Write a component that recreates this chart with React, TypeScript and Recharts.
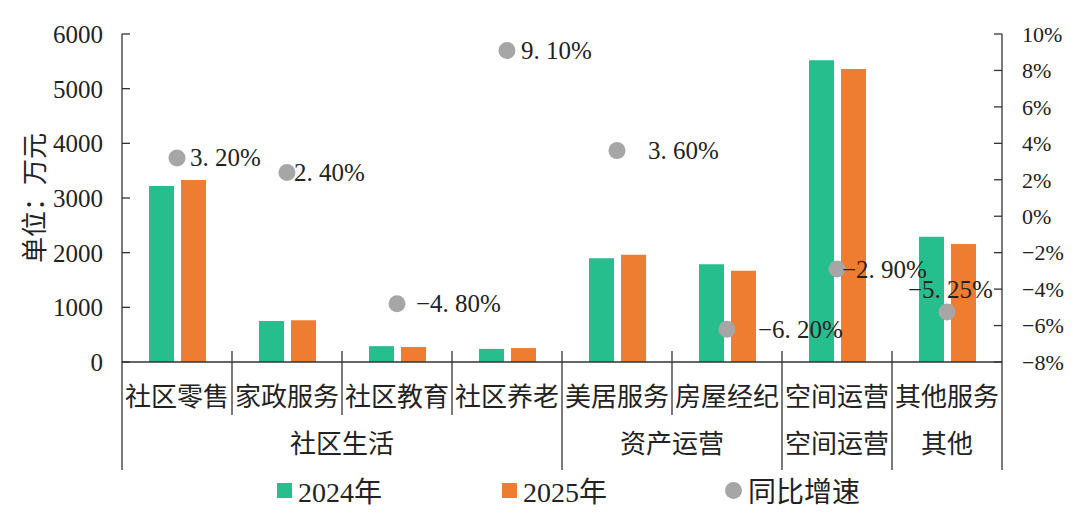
import React from 'react';
import { ComposedChart, Bar, Scatter, XAxis, YAxis, Legend } from 'recharts';

const categories = ['社区零售', '家政服务', '社区教育', '社区养老', '美居服务', '房屋经纪', '空间运营', '其他服务'];
const groups = ['社区生活', '社区生活', '社区生活', '社区生活', '资产运营', '资产运营', '空间运营', '其他'];
const revenue2024 = [3220, 750, 290, 240, 1900, 1790, 5520, 2290];
const revenue2025 = [3330, 765, 275, 255, 1960, 1670, 5360, 2160];
const growthRate = [3.2, 2.4, -4.8, 9.1, 3.6, -6.2, -2.9, -5.25];
const leftTicks = [0, 1000, 2000, 3000, 4000, 5000, 6000];
const rightTicks = [-8, -6, -4, -2, 0, 2, 4, 6, 8, 10];

// label placement next to each growth dot (dx, dy)
const labelShift = [[13, 0], [7, 0], [19, 0], [14, 0], [31, 0], [31, 0], [5, 0], [-39, -22]];

const data = categories.map((name, i) => ({
  name,
  y2024: revenue2024[i],
  y2025: revenue2025[i],
  rate: growthRate[i],
}));

const WIDTH = 1080;
const HEIGHT = 523;
const PLOT_LEFT = 122;
const PLOT_RIGHT = 1002;
const BAND = (PLOT_RIGHT - PLOT_LEFT) / categories.length;
const FONT = '"Liberation Serif", "Noto Sans CJK SC", serif';
const INK = '#222';
const AXIS = '#333';
const GREEN = '#27BE8E';
const ORANGE = '#EE7D31';
const GREY = '#A6A6A6';

const minus = (s: string) => s.replace('-', '\u2212');

const CategoryTick = (props: any) => {
  const { x, y, payload } = props;
  const i = payload.index;
  const left = x - BAND / 2;
  const right = x + BAND / 2;
  const groupStart = i === 0 || groups[i] !== groups[i - 1];
  const last = i === categories.length - 1;
  let groupLabel = null;
  if (groupStart) {
    let n = 0;
    while (groups[i + n] === groups[i]) n++;
    groupLabel = (
      <text x={left + (n * BAND) / 2} y={y + 82} textAnchor="middle" dominantBaseline="central" fontSize={26} fill={INK}>
        {groups[i]}
      </text>
    );
  }
  return (
    <g>
      <line x1={left} x2={left} y1={i === 0 ? y : y - 11} y2={groupStart ? y + 108 : y + 53} stroke={AXIS} strokeWidth={1.3} />
      {last && <line x1={right} x2={right} y1={y} y2={y + 108} stroke={AXIS} strokeWidth={1.3} />}
      <text x={x} y={y + 35} textAnchor="middle" dominantBaseline="central" fontSize={26} fill={INK}>
        {payload.value}
      </text>
      {groupLabel}
    </g>
  );
};

const GrowthDot = (props: any) => {
  const { cx, cy, payload, index } = props;
  const [dx, dy] = labelShift[index] || [12, 0];
  const text = minus(`${payload.rate.toFixed(2)}%`).replace('.', '. ');
  return (
    <g>
      <circle cx={cx} cy={cy} r={8.5} fill={GREY} />
      <text x={cx + dx} y={cy + dy} dominantBaseline="central" fontSize={25} fill={INK}>
        {text}
      </text>
    </g>
  );
};

const UnitLabel = (props: any) => {
  const { viewBox } = props;
  const cx = viewBox.x - 7;
  const cy = viewBox.y + viewBox.height / 2;
  return (
    <text x={cx} y={cy} transform={`rotate(-90, ${cx}, ${cy})`} textAnchor="middle" dominantBaseline="central" fontSize={26} fill={INK}>
      单位：万元
    </text>
  );
};

const renderLegend = () => {
  const item = (left: number, marker: React.ReactNode, label: string) => (
    <div style={{ position: 'absolute', left, top: 0, height: 36, display: 'flex', alignItems: 'center' }}>
      {marker}
      <span style={{ marginLeft: 6, fontSize: 28, color: INK, fontFamily: FONT }}>{label}</span>
    </div>
  );
  return (
    <div style={{ position: 'relative', width: WIDTH, height: 36 }}>
      {item(277, <span style={{ width: 15, height: 15, background: GREEN, display: 'inline-block' }} />, '2024年')}
      {item(502, <span style={{ width: 15, height: 15, background: ORANGE, display: 'inline-block' }} />, '2025年')}
      {item(725, <span style={{ width: 17, height: 17, borderRadius: '50%', background: GREY, display: 'inline-block' }} />, '同比增速')}
    </div>
  );
};

export default function App() {
  return (
    <div style={{ position: 'absolute', left: 0, top: 0, width: WIDTH, height: HEIGHT, background: '#fff', fontFamily: FONT }}>
      <ComposedChart
        width={WIDTH}
        height={HEIGHT}
        data={data}
        margin={{ top: 34, right: 8, left: 42, bottom: 51 }}
        barGap={7}
        style={{ fontFamily: FONT }}
      >
        <XAxis
          dataKey="name"
          interval={0}
          height={110}
          tickLine={false}
          tickSize={0}
          tickMargin={0}
          axisLine={{ stroke: AXIS, strokeWidth: 1.3 }}
          tick={<CategoryTick />}
        />
        <YAxis
          yAxisId="left"
          width={80}
          domain={[0, 6000]}
          ticks={leftTicks}
          interval={0}
          tickSize={-8}
          tickMargin={27}
          axisLine={{ stroke: AXIS, strokeWidth: 1.3 }}
          tickLine={{ stroke: AXIS, strokeWidth: 1.3 }}
          tick={{ fontSize: 25, fill: INK }}
          label={{ content: <UnitLabel /> }}
        />
        <YAxis
          yAxisId="right"
          orientation="right"
          width={70}
          domain={[-8, 10]}
          ticks={rightTicks}
          interval={0}
          tickSize={-8}
          tickMargin={28}
          axisLine={{ stroke: AXIS, strokeWidth: 1.3 }}
          tickLine={{ stroke: AXIS, strokeWidth: 1.3 }}
          tick={{ fontSize: 22, fill: INK, textAnchor: 'start' }}
          tickFormatter={(v: number) => minus(`${v}%`)}
        />
        <Legend
          layout="horizontal"
          verticalAlign="middle"
          align="center"
          wrapperStyle={{ top: 472, left: 0, width: WIDTH, height: 36 }}
          content={renderLegend}
        />
        <Bar yAxisId="left" dataKey="y2024" name="2024年" fill={GREEN} barSize={25} isAnimationActive={false} />
        <Bar yAxisId="left" dataKey="y2025" name="2025年" fill={ORANGE} barSize={25} isAnimationActive={false} />
        <Scatter yAxisId="right" dataKey="rate" name="同比增速" fill={GREY} shape={<GrowthDot />} isAnimationActive={false} />
      </ComposedChart>
    </div>
  );
}
